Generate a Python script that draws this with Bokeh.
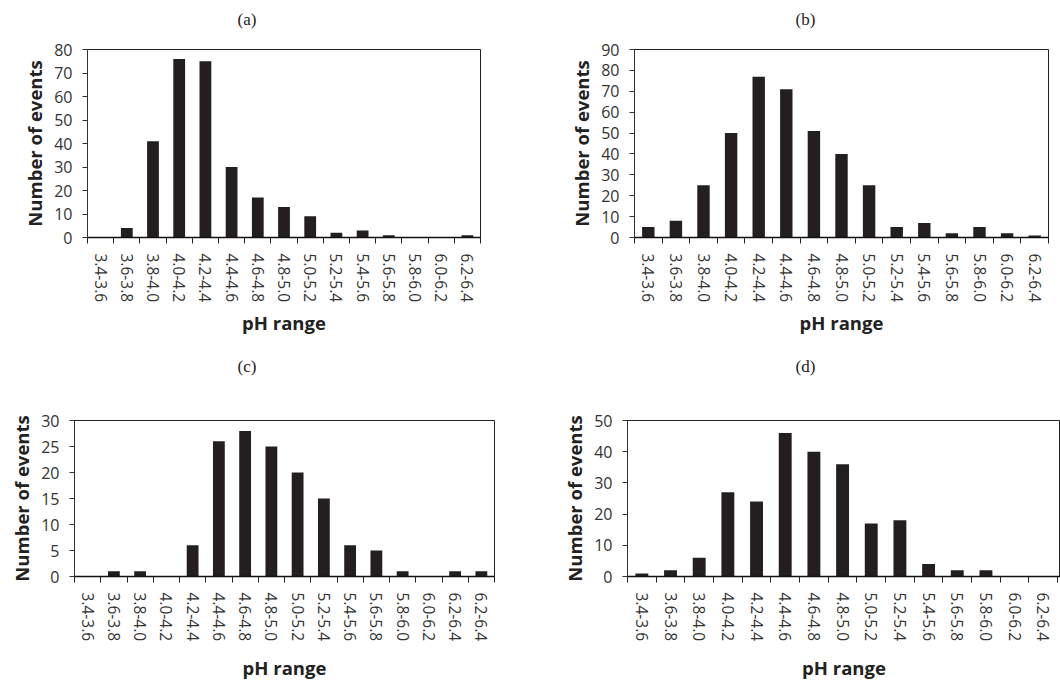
from bokeh.plotting import figure
from bokeh.layouts import column, row
from bokeh.models import Range1d, FixedTicker, Title
from bokeh.embed import file_html
from bokeh.resources import INLINE

# ---------------- data ----------------
labels_a = ["3.4-3.6", "3.6-3.8", "3.8-4.0", "4.0-4.2", "4.2-4.4", "4.4-4.6", "4.6-4.8",
            "4.8-5.0", "5.0-5.2", "5.2-5.4", "5.4-5.6", "5.6-5.8", "5.8-6.0", "6.0-6.2", "6.2-6.4"]
values_a = [0, 4, 41, 76, 75, 30, 17, 13, 9, 2, 3, 1, 0, 0, 1]

labels_b = ["3.4-3.6", "3.6-3.8", "3.8-4.0", "4.0-4.2", "4.2-4.4", "4.4-4.6", "4.6-4.8",
            "4.8-5.0", "5.0-5.2", "5.2-5.4", "5.4-5.6", "5.6-5.8", "5.8-6.0", "6.0-6.2", "6.2-6.4"]
values_b = [5, 8, 25, 50, 77, 71, 51, 40, 25, 5, 7, 2, 5, 2, 1]

labels_c = ["3.4-3.6", "3.6-3.8", "3.8-4.0", "4.0-4.2", "4.2-4.4", "4.4-4.6", "4.6-4.8",
            "4.8-5.0", "5.0-5.2", "5.2-5.4", "5.4-5.6", "5.6-5.8", "5.8-6.0", "6.0-6.2",
            "6.2-6.4", "6.2-6.4"]
values_c = [0, 1, 1, 0, 6, 26, 28, 25, 20, 15, 6, 5, 1, 0, 1, 1]

labels_d = ["3.4-3.6", "3.6-3.8", "3.8-4.0", "4.0-4.2", "4.2-4.4", "4.4-4.6", "4.6-4.8",
            "4.8-5.0", "5.0-5.2", "5.2-5.4", "5.4-5.6", "5.6-5.8", "5.8-6.0", "6.0-6.2", "6.2-6.4"]
values_d = [1, 2, 6, 27, 24, 46, 40, 36, 17, 18, 4, 2, 2, 0, 0]

y_max = {"a": 80, "b": 90, "c": 30, "d": 50}
y_step = {"a": 10, "b": 10, "c": 5, "d": 10}
panel_titles = {"a": "(a)", "b": "(b)", "c": "(c)", "d": "(d)"}
x_title = "pH range"
y_title = "Number of events"

TICK_FONT = "Open Sans"
TEXT_COLOR = "#333333"


def make_panel(key, labels, values, width, height, mb_left, mb_right, mb_top, mb_bottom,
               title_offset, title_gap, xlabel_standoff, x_end=None):
    n = len(labels)
    xs = list(range(n))
    if x_end is None:
        x_end = n - 0.5
    p = figure(width=width, height=height, output_backend="svg", toolbar_location=None,
               title=None,
               x_range=Range1d(-0.5, x_end), y_range=Range1d(0, y_max[key]),
               min_border_left=mb_left, min_border_right=mb_right,
               min_border_top=mb_top, min_border_bottom=mb_bottom)
    # empty spacer between the frame and the panel caption
    p.add_layout(Title(text=" ", text_font_size="1px", standoff=title_gap), "above")
    p.add_layout(Title(text=panel_titles[key], align="left", offset=title_offset,
                       text_font="Liberation Serif", text_font_size="17px",
                       text_font_style="normal", text_color="#222222",
                       standoff=0), "above")
    p.vbar(x=xs, top=values, width=0.45, fill_color="#231f20", line_color=None)

    p.xgrid.visible = False
    p.ygrid.visible = False
    p.background_fill_color = "white"
    p.border_fill_color = "white"
    p.outline_line_color = "#222222"
    p.outline_line_width = 1

    # x axis: labels at category centres, ticks at category boundaries
    xa = p.xaxis[0]
    xa.ticker = FixedTicker(ticks=xs, minor_ticks=[i - 0.5 for i in range(n + 1)])
    xa.major_label_overrides = {i: lab for i, lab in zip(xs, labels)}
    xa.major_label_orientation = "vertical"
    xa.major_tick_line_color = None
    xa.major_tick_out = 0
    xa.major_tick_in = 0
    xa.minor_tick_line_color = "#222222"
    xa.minor_tick_out = 6
    xa.minor_tick_in = 0
    xa.axis_line_color = "#111111"
    xa.axis_line_width = 1.5
    xa.major_label_text_font = TICK_FONT
    xa.major_label_text_font_size = "15.5px"
    xa.major_label_text_color = TEXT_COLOR
    xa.major_label_standoff = 10
    xa.axis_label = x_title
    xa.axis_label_text_font = TICK_FONT
    xa.axis_label_text_font_size = "18.5px"
    xa.axis_label_text_font_style = "bold"
    xa.axis_label_text_color = "#222222"
    xa.axis_label_standoff = xlabel_standoff

    ya = p.yaxis[0]
    ya.ticker = FixedTicker(ticks=list(range(0, y_max[key] + 1, y_step[key])))
    ya.minor_tick_line_color = None
    ya.major_tick_out = 5
    ya.major_tick_in = 0
    ya.major_tick_line_color = "#333333"
    ya.axis_line_color = "#333333"
    ya.major_label_text_font = TICK_FONT
    ya.major_label_text_font_size = "16px"
    ya.major_label_text_color = TEXT_COLOR
    ya.major_label_standoff = 10
    ya.axis_label = y_title
    ya.axis_label_text_font = TICK_FONT
    ya.axis_label_text_font_size = "18.5px"
    ya.axis_label_text_font_style = "bold"
    ya.axis_label_text_color = "#222222"
    ya.axis_label_standoff = 4
    return p


pa = make_panel("a", labels_a, values_a, 530, 338, 87, 50, 49, 101, 150, 18, 5)
pb = make_panel("b", labels_b, values_b, 530, 338, 104, 12, 49, 97, 161, 18, 5)
pc = make_panel("c", labels_c, values_c, 530, 345, 74, 36, 82, 100, 163, 42, 11)
pd_ = make_panel("d", labels_d, values_d, 530, 345, 97, 0, 82, 97, 168, 42, 11,
                 x_end=14.6)

layout = column(row(pa, pb), row(pc, pd_))

open("out.html", "w").write(file_html(layout, INLINE))
